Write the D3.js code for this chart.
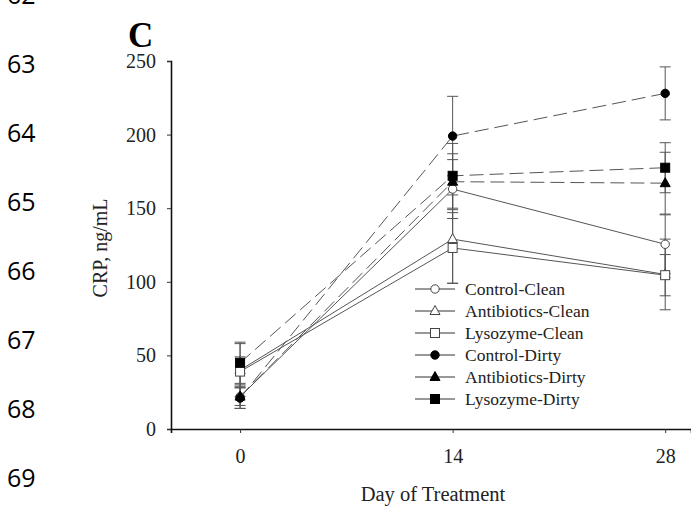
<!DOCTYPE html>
<html>
<head>
<meta charset="utf-8">
<script src="https://cdn.jsdelivr.net/npm/d3@7"></script>
<style>
  body { margin: 0; background: #fff; }
  svg { display: block; }
</style>
</head>
<body>
<div id="chart"></div>
<script>
const DAYS = [0, 14, 28]
const SERIES = ['Control-Clean', 'Antibiotics-Clean', 'Lysozyme-Clean', 'Control-Dirty', 'Antibiotics-Dirty', 'Lysozyme-Dirty']
const MEANS = {
  'Control-Clean':     [22, 163, 125.5],
  'Antibiotics-Clean': [40, 129, 105],
  'Lysozyme-Clean':    [39, 123, 104.5],
  'Control-Dirty':     [21, 199, 228],
  'Antibiotics-Dirty': [22, 168, 167],
  'Lysozyme-Dirty':    [45, 172, 177.5],
}
const ERRORS = {
  'Control-Clean':     [8, 20, 20],
  'Antibiotics-Clean': [18, 30, 24],
  'Lysozyme-Clean':    [10, 24, 14],
  'Control-Dirty':     [7, 27, 18],
  'Antibiotics-Dirty': [6, 19, 21],
  'Lysozyme-Dirty':    [14, 22, 17],
}
const MARKERS = {
  'Control-Clean':     ['circle', false],
  'Antibiotics-Clean': ['triangle', false],
  'Lysozyme-Clean':    ['square', false],
  'Control-Dirty':     ['circle', true],
  'Antibiotics-Dirty': ['triangle', true],
  'Lysozyme-Dirty':    ['square', true],
}
const Y_TICKS = [0, 50, 100, 150, 200, 250]
const LINE_NUMBERS = [62, 63, 64, 65, 66, 67, 68, 69]

const width = 691, height = 508
const svg = d3.select('#chart').append('svg')
  .attr('width', width)
  .attr('height', height)

const x = d3.scaleLinear().domain([-4.55, 29.7]).range([171, 691])
const y = d3.scaleLinear().domain([0, 250]).range([429, 61])

// manuscript line numbers down the left
svg.append('g').selectAll('text').data(LINE_NUMBERS)
  .enter().append('text')
    .attr('x', 7)
    .attr('y', (d, i) => 4 + i * 69)
    .attr('font-family', '"Open Sans", sans-serif')
    .attr('font-size', 25)
    .attr('fill', '#000')
    .text(d => d)

// panel letter
svg.append('text')
  .attr('x', 128)
  .attr('y', 47)
  .attr('font-family', '"Liberation Serif", serif')
  .attr('font-weight', 'bold')
  .attr('font-size', 35)
  .text('C')

// axes
const yAxis = svg.append('g')
  .attr('transform', 'translate(171,0)')
  .call(d3.axisLeft(y).tickValues(Y_TICKS).tickSize(4).tickPadding(11))
const xAxis = svg.append('g')
  .attr('transform', 'translate(0,429)')
  .call(d3.axisBottom(x).tickValues(DAYS).tickSize(4).tickPadding(16))

for (const ax of [yAxis, xAxis]) {
  ax.select('.domain').attr('stroke', '#111').attr('stroke-width', 1.6)
  ax.selectAll('.tick line').attr('stroke', '#333')
  ax.selectAll('.tick text')
    .attr('font-family', '"Liberation Serif", serif')
    .attr('font-size', 20)
    .attr('fill', '#222')
}

svg.append('text')
  .attr('transform', 'translate(107,248) rotate(-90)')
  .attr('text-anchor', 'middle')
  .attr('font-family', '"Liberation Serif", serif')
  .attr('font-size', 20)
  .attr('fill', '#222')
  .text('CRP, ng/mL')

svg.append('text')
  .attr('x', 433)
  .attr('y', 501)
  .attr('text-anchor', 'middle')
  .attr('font-family', '"Liberation Serif", serif')
  .attr('font-size', 20.5)
  .attr('fill', '#222')
  .text('Day of Treatment')

const LINE_COLOR = '#555'

function drawMarker(g, shape, filled, cx, cy){
  const fill = filled ? '#000' : '#fff'
  const stroke = filled ? '#000' : '#444'
  if (shape == 'circle') {
    g.append('circle').attr('cx', cx).attr('cy', cy).attr('r', 4.2)
      .attr('fill', fill).attr('stroke', stroke).attr('stroke-width', 1)
  } else if (shape == 'square') {
    g.append('rect').attr('x', cx - 4.5).attr('y', cy - 4.5).attr('width', 9).attr('height', 9)
      .attr('fill', fill).attr('stroke', stroke).attr('stroke-width', 1)
  } else {
    g.append('path').attr('d', `M${cx},${cy - 5.5}L${cx + 5},${cy + 3.5}L${cx - 5},${cy + 3.5}Z`)
      .attr('fill', fill).attr('stroke', stroke).attr('stroke-width', 1)
  }
}

// error bars
const errG = svg.append('g')
for (const s of SERIES) {
  DAYS.forEach((d, i) => {
    const m = MEANS[s][i], e = ERRORS[s][i]
    errG.append('line')
      .attr('x1', x(d)).attr('x2', x(d))
      .attr('y1', y(m - e)).attr('y2', y(m + e))
      .attr('stroke', LINE_COLOR).attr('stroke-width', 1)
    for (const v of [m - e, m + e]) {
      errG.append('line')
        .attr('x1', x(d) - 5.5).attr('x2', x(d) + 5.5)
        .attr('y1', y(v)).attr('y2', y(v))
        .attr('stroke', LINE_COLOR).attr('stroke-width', 1)
    }
  })
}

// series lines
const line = d3.line().x((d, i) => x(DAYS[i])).y(d => y(d))
const lineG = svg.append('g')
for (const s of SERIES) {
  const dirty = MARKERS[s][1]
  lineG.append('path')
    .attr('d', line(MEANS[s]))
    .attr('fill', 'none')
    .attr('stroke', LINE_COLOR)
    .attr('stroke-width', 1)
    .attr('stroke-dasharray', dirty ? '14,6' : null)
}

// markers
const markG = svg.append('g')
for (const s of SERIES) {
  const [shape, filled] = MARKERS[s]
  MEANS[s].forEach((v, i) => drawMarker(markG, shape, filled, x(DAYS[i]), y(v)))
}

// legend
const legend = svg.append('g')
SERIES.forEach((s, i) => {
  const ly = 289 + i * 22
  legend.append('line')
    .attr('x1', 415).attr('x2', 455)
    .attr('y1', ly).attr('y2', ly)
    .attr('stroke', '#333').attr('stroke-width', 1)
  drawMarker(legend, MARKERS[s][0], MARKERS[s][1], 435, ly)
  legend.append('text')
    .attr('x', 465)
    .attr('y', ly + 6)
    .attr('font-family', '"Liberation Serif", serif')
    .attr('font-size', 17.5)
    .attr('fill', '#222')
    .text(s)
})
</script>
</body>
</html>
